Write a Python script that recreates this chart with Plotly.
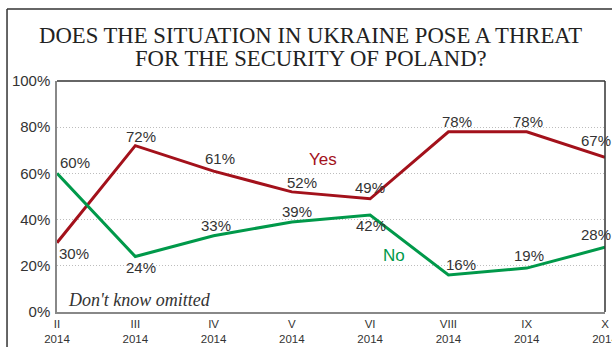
import plotly.graph_objects as go

months = ["II", "III", "IV", "V", "VI", "VIII", "IX", "X"]
year = "2014"
yes_values = [30, 72, 61, 52, 49, 78, 78, 67]
no_values = [60, 24, 33, 39, 42, 16, 19, 28]
y_ticks = [0, 20, 40, 60, 80, 100]

# label offsets in pixels (x, y) relative to each point
yes_offsets = [(17, -11), (6, 9), (6, 13), (10, 9), (0, 11), (9, 10), (1, 10), (-9, 17)]
no_offsets = [(18, 11), (6, -11), (2, 10), (5, 10), (1, -11), (13, 11), (2, 13), (-9, 13)]

YES_COLOR = "#A3111B"
NO_COLOR = "#00994A"
TEXT_COLOR = "#333333"
SANS = "Liberation Sans, Arial, sans-serif"
SERIF = "Times New Roman, Liberation Serif, DejaVu Serif, serif"

x_pos = list(range(len(months)))

fig = go.Figure()
fig.add_trace(go.Scatter(x=x_pos, y=yes_values, mode="lines", name="Yes",
                         line=dict(color=YES_COLOR, width=3), hoverinfo="skip"))
fig.add_trace(go.Scatter(x=x_pos, y=no_values, mode="lines", name="No",
                         line=dict(color=NO_COLOR, width=3), hoverinfo="skip"))

annotations = []
for values, offsets in ((yes_values, yes_offsets), (no_values, no_offsets)):
    for xi, v, (dx, dy) in zip(x_pos, values, offsets):
        annotations.append(dict(x=xi, y=v, text=f"{v}%", showarrow=False,
                                xshift=dx, yshift=dy,
                                font=dict(family=SANS, size=15, color=TEXT_COLOR)))

# series names placed beside the lines
annotations.append(dict(x=3.4, y=66, text="Yes", showarrow=False,
                        font=dict(family=SANS, size=17, color=YES_COLOR)))
annotations.append(dict(x=4.3, y=24.5, text="No", showarrow=False,
                        font=dict(family=SANS, size=17, color=NO_COLOR)))

annotations.append(dict(x=0.017, y=5.2, xref="x domain", yref="y", xanchor="left",
                        yanchor="middle",
                        text="<i>Don't know omitted</i>", showarrow=False,
                        font=dict(family=SERIF, size=18, color=TEXT_COLOR)))

# two-line title
annotations.append(dict(x=0.463, y=1.198, xref="paper", yref="paper",
                        xanchor="center", yanchor="middle",
                        text="DOES THE SITUATION IN UKRAINE POSE A THREAT",
                        showarrow=False,
                        font=dict(family=SERIF, size=22.7, color="#222222")))
annotations.append(dict(x=0.463, y=1.097, xref="paper", yref="paper",
                        xanchor="center", yanchor="middle",
                        text="FOR THE SECURITY OF POLAND?",
                        showarrow=False,
                        font=dict(family=SERIF, size=22.7, color="#222222")))

shapes = [
    # plot frame: top and right edges
    dict(type="line", xref="paper", yref="paper", x0=0, x1=1, y0=1, y1=1,
         line=dict(color="#333333", width=1.5)),
    dict(type="line", xref="paper", yref="paper", x0=1, x1=1, y0=0, y1=1,
         line=dict(color="#333333", width=1.5)),
    # outer box
    dict(type="line", xref="paper", yref="paper", x0=-0.0912, x1=-0.0912,
         y0=-0.2, y1=1.3117, line=dict(color="#333333", width=1.5)),
    dict(type="line", xref="paper", yref="paper", x0=-0.0912, x1=1.2,
         y0=1.3117, y1=1.3117, line=dict(color="#333333", width=1.5)),
]

fig.update_layout(
    width=612, height=347,
    margin=dict(l=57, r=7, t=81, b=35, autoexpand=False),
    paper_bgcolor="white", plot_bgcolor="white",
    showlegend=False,
    annotations=annotations,
    shapes=shapes,
    xaxis=dict(
        range=[0, len(months) - 1],
        tickvals=x_pos,
        ticktext=[f"{m}<br>{year}" for m in months],
        tickfont=dict(family=SANS, size=11.5, color=TEXT_COLOR),
        ticklabeloverflow="allow",
        automargin=False,
        showgrid=False, zeroline=False,
        showline=True, linecolor="#888888", linewidth=1.5,
        ticks="", fixedrange=True,
    ),
    yaxis=dict(
        range=[0, 100],
        tickvals=y_ticks,
        ticktext=[f"{t}%" for t in y_ticks],
        tickfont=dict(family=SANS, size=15, color=TEXT_COLOR),
        automargin=False,
        showgrid=True, gridcolor="#BDBDBD", griddash="1px,2px", gridwidth=1,
        zeroline=False,
        showline=True, linecolor="#888888", linewidth=1.5,
        ticks="", ticklabelstandoff=2, fixedrange=True,
    ),
)

fig.write_html("out.html")
